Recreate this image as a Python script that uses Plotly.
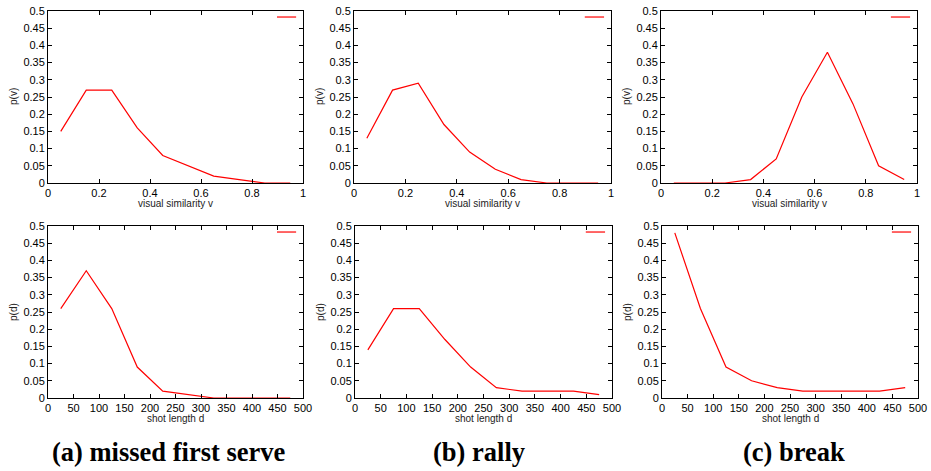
import plotly.graph_objects as go
from plotly.subplots import make_subplots

# Data
v_bins = [0.05, 0.15, 0.25, 0.35, 0.45, 0.55, 0.65, 0.75, 0.85, 0.95]
d_bins = [25, 75, 125, 175, 225, 275, 325, 375, 425, 475]

pv_missed = [0.15, 0.27, 0.27, 0.16, 0.08, 0.05, 0.02, 0.01, 0.0, 0.0]
pv_rally = [0.13, 0.27, 0.29, 0.17, 0.09, 0.04, 0.01, 0.0, 0.0, 0.0]
pv_break = [0.0, 0.0, 0.0, 0.01, 0.07, 0.25, 0.38, 0.23, 0.05, 0.01]

pd_missed = [0.26, 0.37, 0.26, 0.09, 0.02, 0.01, 0.0, 0.0, 0.0, 0.0]
pd_rally = [0.14, 0.26, 0.26, 0.17, 0.09, 0.03, 0.02, 0.02, 0.02, 0.01]
pd_break = [0.48, 0.26, 0.09, 0.05, 0.03, 0.02, 0.02, 0.02, 0.02, 0.03]

captions = ["(a) missed first serve", "(b) rally", "(c) break"]
v_ticks = [0, 0.2, 0.4, 0.6, 0.8, 1]
d_ticks = [0, 50, 100, 150, 200, 250, 300, 350, 400, 450, 500]
y_ticks = [0, 0.05, 0.1, 0.15, 0.2, 0.25, 0.3, 0.35, 0.4, 0.45, 0.5]

W, H = 931, 471
fig = make_subplots(rows=2, cols=3)

series = [
    (1, 1, v_bins, pv_missed), (1, 2, v_bins, pv_rally), (1, 3, v_bins, pv_break),
    (2, 1, d_bins, pd_missed), (2, 2, d_bins, pd_rally), (2, 3, d_bins, pd_break),
]
for r, c, xs, ys in series:
    fig.add_trace(go.Scatter(x=xs, y=ys, mode="lines", line=dict(color="#ff0000", width=1.2),
                             showlegend=False, hoverinfo="skip"), row=r, col=c)

# pixel layout of plot areas (left, right, top, bottom)
boxes = [
    (48, 303, 11, 183), (354, 611, 11, 183), (661, 917, 11, 183),
    (48, 303, 226, 398), (355, 612, 226, 398), (662, 918, 226, 398),
]
font_tick = dict(family="Liberation Sans, Arial, sans-serif", size=11, color="#000")
font_title = dict(family="Liberation Sans, Arial, sans-serif", size=10, color="#222")
for i, (l, rr, t, b) in enumerate(boxes):
    n = "" if i == 0 else str(i + 1)
    top = i < 3
    fig.layout["xaxis" + n].update(
        domain=[l / W, rr / W], range=[0, 1] if top else [0, 500], automargin=False,
        tickvals=v_ticks if top else d_ticks, ticks="inside", ticklen=4,
        showline=True, linecolor="#000", linewidth=1, mirror="ticks",
        showgrid=False, zeroline=False, tickfont=font_tick, tickcolor="#000",
    )
    fig.layout["yaxis" + n].update(
        domain=[1 - b / H, 1 - t / H], range=[0, 0.5], automargin=False,
        tickvals=y_ticks, ticktext=[f"{v:g}" for v in y_ticks], ticks="inside", ticklen=4,
        showline=True, linecolor="#000", linewidth=1, mirror="ticks",
        showgrid=False, zeroline=False, tickfont=font_tick, tickcolor="#000",
    )
    xr = "x" + n + " domain"
    yr = "y" + n + " domain"
    # key sample line
    fig.add_shape(type="line", xref=xr, yref=yr, x0=0.898, x1=0.973, y0=0.965, y1=0.965,
                  line=dict(color="#ff0000", width=1.2))
    # axis titles
    fig.add_annotation(text="visual similarity v" if top else "shot length d",
                       xref=xr, yref="paper", x=0.5, y=1 - (b + 20) / H,
                       xanchor="center", yanchor="middle",
                       showarrow=False, font=font_title)
    fig.add_annotation(text="p(v)" if top else "p(d)", textangle=-90,
                       xref="paper", yref=yr, x=(l - 35) / W, y=0.5,
                       xanchor="center", yanchor="middle",
                       showarrow=False, font=font_title)

cap_x = [169, 479, 794]
for cx, txt in zip(cap_x, captions):
    fig.add_annotation(text="<b>" + txt + "</b>", xref="paper", yref="paper",
                       x=cx / W, y=1 - 452 / H, xanchor="center", yanchor="middle",
                       showarrow=False,
                       font=dict(family="Liberation Serif, Times New Roman, serif", size=26.5, color="#000"))

fig.update_layout(width=W, height=H, margin=dict(l=0, r=0, t=0, b=0, pad=0), autosize=False,
                  paper_bgcolor="white", plot_bgcolor="white", showlegend=False)
fig.write_html("out.html")
